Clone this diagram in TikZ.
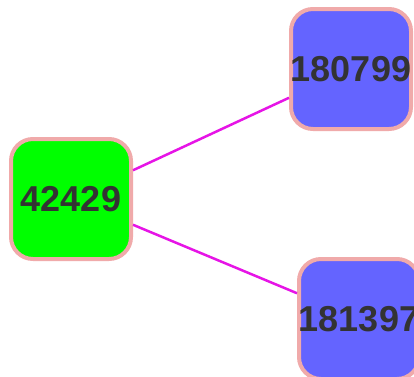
\documentclass[tikz,border=0pt]{standalone}
\usepackage{fontspec}
\setmainfont{Liberation Sans}
\definecolor{nodegreen}{HTML}{00FF00}
\definecolor{nodeblue}{HTML}{6464FF}
\definecolor{nodeborder}{HTML}{F0AAAA}
\definecolor{edgecol}{HTML}{E614E6}
\definecolor{txtcol}{HTML}{333333}
\begin{document}
\begin{tikzpicture}[x=1pt,y=1pt,
  box/.style={draw=nodeborder, line width=4pt, rounded corners=22pt, minimum width=120pt, minimum height=120pt, inner sep=0pt},
  lbl/.style={text=txtcol, font=\fontsize{36}{36}\selectfont\bfseries, inner sep=0pt},
  edge/.style={draw=edgecol, line width=2.5pt}]
\useasboundingbox (0,0) rectangle (414,376);
\clip (0,0) rectangle (414,376);
\node[box, fill=nodegreen] (g) at (71,177) {};
\node[box, fill=nodeblue] (t) at (351,307) {};
\node[box, fill=nodeblue] (b) at (359,57) {};
\draw[edge] (g) -- (t);
\draw[edge] (g) -- (b);
\node[lbl] (gl) at (g) {42429};
\node[lbl] (tl) at (t) {180799};
\node[lbl] (bl) at (b) {181397};
\end{tikzpicture}
\end{document}
